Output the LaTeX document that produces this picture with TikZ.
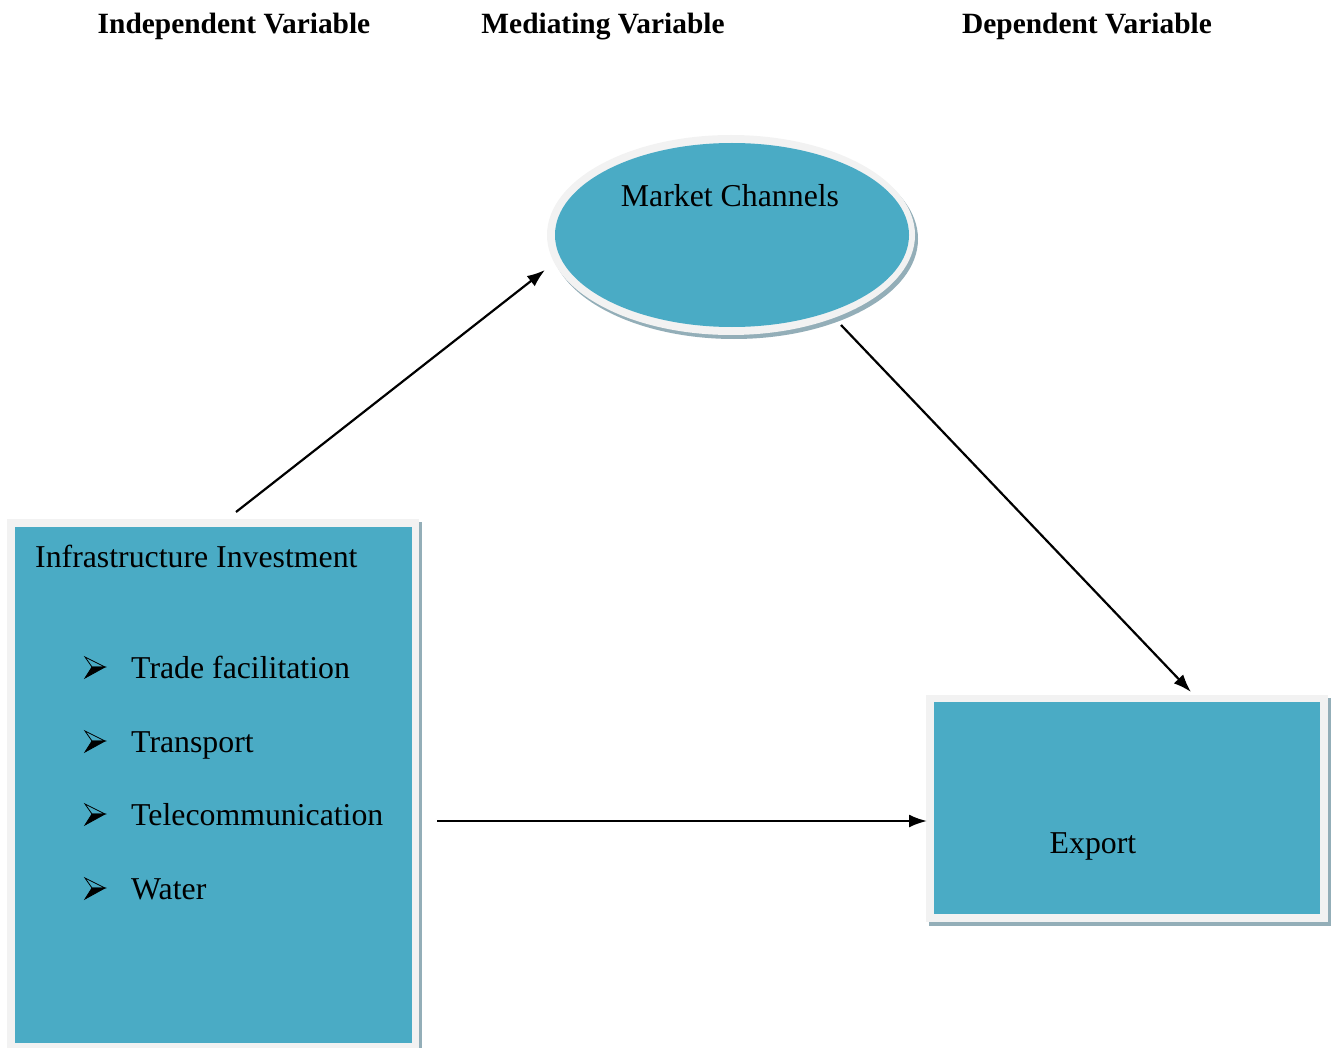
\documentclass[tikz,border=0pt]{standalone}
\usepackage{fontspec}
\setmainfont{Liberation Serif}
\usetikzlibrary{arrows.meta,shapes.geometric}
\definecolor{boxblue}{HTML}{4AABC5}
\definecolor{framegray}{HTML}{F2F2F2}
\definecolor{shadowgray}{HTML}{93AEB8}
\tikzset{
  header/.style={font=\fontsize{29.4}{34}\selectfont\bfseries, anchor=base, inner sep=0pt},
  bodytext/.style={font=\fontsize{31.8}{38}\selectfont, inner sep=0pt},
  conn/.style={line width=2.2pt, -{Latex[length=18pt,width=13pt]}},
  pics/bulletarrow/.style={code={
    \filldraw[line width=0.8pt, draw=black, fill=boxblue] (-10,-10) -- (10,0) -- (-3,0) -- cycle;
    \filldraw[line width=0.8pt, fill=black] (-3,0) -- (10,0) -- (-10,11) -- cycle;
  }}
}
\begin{document}
\begin{tikzpicture}[x=1pt,y=-1pt]
\useasboundingbox (0,0) rectangle (1337,1048);
% headers
\node[header] (hind) at (234,34) {Independent Variable};
\node[header] (hmed) at (603,34) {Mediating Variable};
\node[header] (hdep) at (1087,34) {Dependent Variable};
% ellipse
\fill[shadowgray] (734,239) ellipse [x radius=184, y radius=100];
\fill[framegray] (731,235) ellipse [x radius=184, y radius=100];
\node[ellipse, fill=boxblue, minimum width=354pt, minimum height=184pt, inner sep=0pt] (mc) at (732,235) {};
\node[bodytext, anchor=base] (mctext) at (730,207) {Market Channels};
% left box
\fill[shadowgray] (10,522) rectangle (422,1052);
\fill[framegray] (7,519) rectangle (419,1052);
\node[fill=boxblue, inner sep=0pt, minimum width=397pt, minimum height=516pt] (ii) at (213.5,785) {};
\node[bodytext, anchor=base west] (iititle) at (35,567) {Infrastructure Investment};
\node[bodytext, anchor=base west] (it1) at (131,678) {Trade facilitation};
\node[bodytext, anchor=base west] (it2) at (131,752) {Transport};
\node[bodytext, anchor=base west] (it3) at (131,825) {Telecommunication};
\node[bodytext, anchor=base west] (it4) at (131,899) {Water};
\pic at (95,667) {bulletarrow};
\pic at (95,741) {bulletarrow};
\pic at (95,814) {bulletarrow};
\pic at (95,888) {bulletarrow};
% right box
\fill[shadowgray] (929,698) rectangle (1331,926);
\fill[framegray] (926,695) rectangle (1328,922);
\node[fill=boxblue, inner sep=0pt, minimum width=386pt, minimum height=212pt] (ex) at (1127,808) {};
\node[bodytext, anchor=base] (extext) at (1093,853) {Export};
% connectors
\coordinate (c1s) at (236,512);
\coordinate (c1e) at (545,270);
\coordinate (c2s) at (841,325);
\coordinate (c2e) at (1191,692);
\coordinate (c3s) at (437,821);
\coordinate (c3e) at (927,821);
\draw[conn] (c1s) -- (c1e);
\draw[conn] (c2s) -- (c2e);
\draw[conn] (c3s) -- (c3e);
\end{tikzpicture}
\end{document}
